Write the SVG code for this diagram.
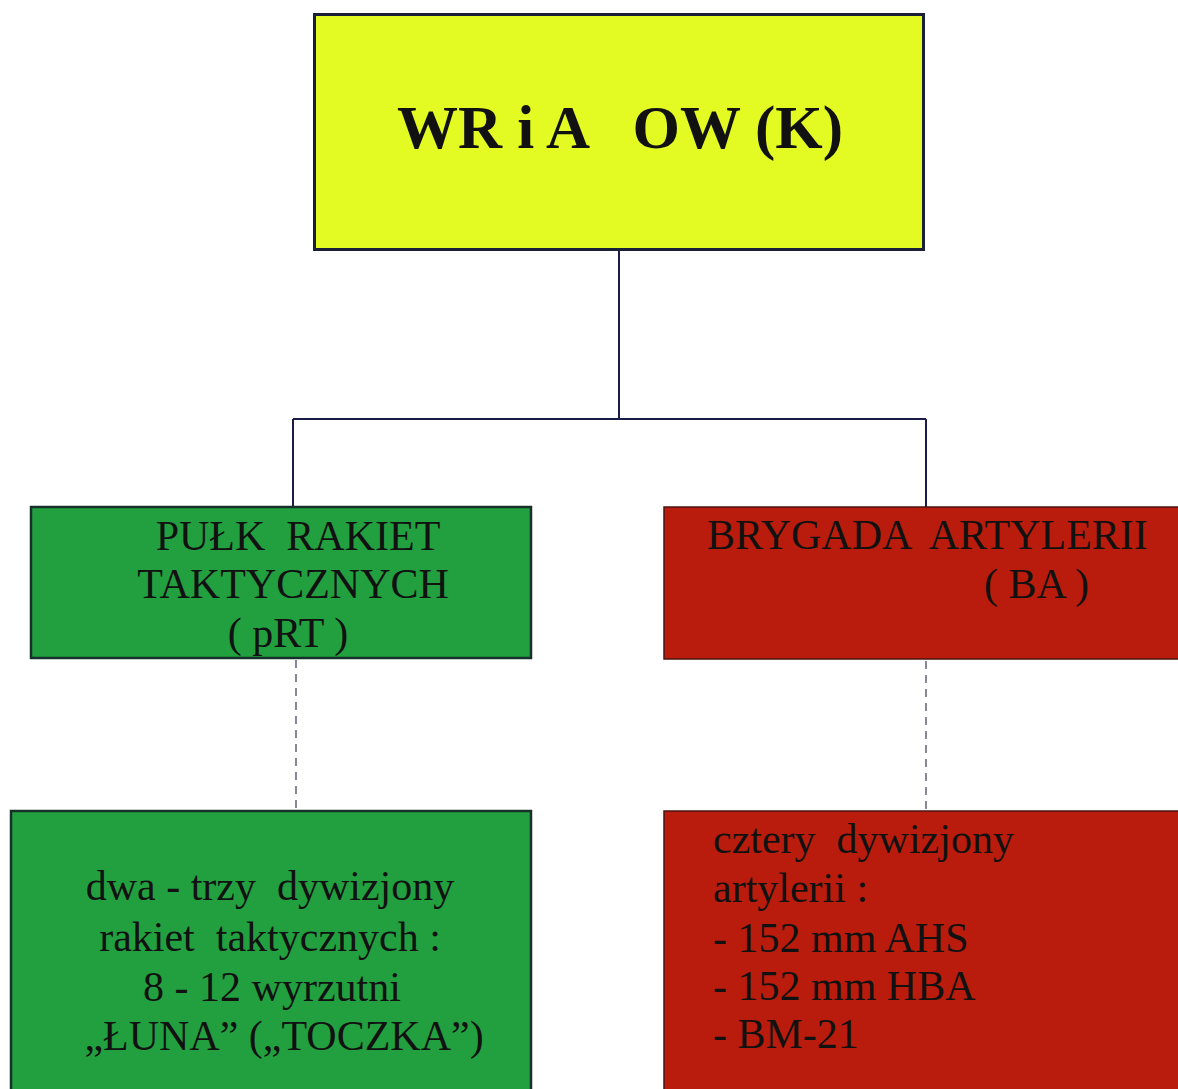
<svg xmlns="http://www.w3.org/2000/svg" width="1178" height="1089" viewBox="0 0 1178 1089">
<style>
text{font-family:"Liberation Serif","Times New Roman",serif;fill:#111;white-space:pre}
.t{font-size:42px}
.c{text-anchor:middle}
.g{fill:#22a03f;stroke:#16302a;stroke-width:2.5}
.r{fill:#b91c0c;stroke:#4a1410;stroke-width:1.5}
.ln{stroke:#1c1c48;stroke-width:2;fill:none}
.dash{stroke:#45495e;stroke-width:1.3;stroke-dasharray:8 6;fill:none}
</style>
<rect width="1178" height="1089" fill="#ffffff"/>
<g id="connectors">
<path class="ln" d="M619 250 V419 M293 419 H926 M293 419 V507 M926 419 V507"/>
<path class="dash" d="M296 660 V810"/>
<path class="dash" d="M926 661 V810"/>
</g>
<g id="wria">
<rect x="314.5" y="14.5" width="609" height="235" fill="#e4fb23" stroke="#1a1f3a" stroke-width="3"/>
<text x="620" y="148" class="c" font-size="61" font-weight="bold">WR i A   OW (K)</text>
</g>
<g id="prt">
<rect x="31" y="507" width="500" height="151" class="g"/>
<text class="t c" x="298" y="550">PUŁK  RAKIET</text>
<text class="t c" x="293" y="598">TAKTYCZNYCH</text>
<text class="t c" x="288" y="647">( pRT )</text>
</g>
<g id="ba">
<rect x="664" y="507" width="520" height="152" class="r"/>
<text class="t" x="707" y="549">BRYGADA  ARTYLERII</text>
<text class="t" x="984" y="598">( BA )</text>
</g>
<g id="prt-sub">
<rect x="11" y="811" width="520" height="290" class="g"/>
<text class="t c" x="270" y="900">dwa - trzy  dywizjony</text>
<text class="t c" x="270" y="951">rakiet  taktycznych :</text>
<text class="t c" x="272" y="1001">8 - 12 wyrzutni</text>
<text class="t c" x="284" y="1050">„ŁUNA” („TOCZKA”)</text>
</g>
<g id="ba-sub">
<rect x="664" y="811" width="520" height="290" class="r"/>
<text class="t" x="713" y="853">cztery  dywizjony</text>
<text class="t" x="713" y="902">artylerii :</text>
<text class="t" x="713" y="952">- 152 mm AHS</text>
<text class="t" x="713" y="1000">- 152 mm HBA</text>
<text class="t" x="713" y="1048">- BM-21</text>
</g>
</svg>
